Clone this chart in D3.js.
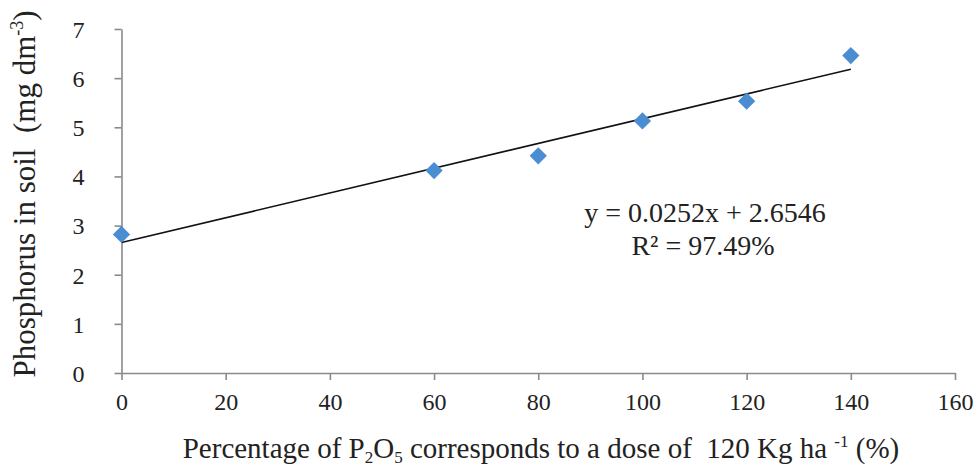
<!DOCTYPE html>
<html>
<head>
<meta charset="utf-8">
<script src="https://cdn.jsdelivr.net/npm/d3@7"></script>
<style>
  body { margin: 0; background: #fff; }
  text { font-family: "Liberation Serif", "Times New Roman", serif; fill: #222; }
</style>
</head>
<body>
<svg width="977" height="470"></svg>
<script>
var svg = d3.select('svg');

// data
var doses = [0, 60, 80, 100, 120, 140];
var phosphorus = [2.82, 4.12, 4.42, 5.13, 5.53, 6.46];
var xTicks = [0, 20, 40, 60, 80, 100, 120, 140, 160];
var yTicks = [0, 1, 2, 3, 4, 5, 6, 7];
var slope = 0.0252, intercept = 2.6546;
var fitRange = [0, 140];

var plotLeft = 121.5, plotRight = 955, plotTop = 29, plotBottom = 373;

var xScale = d3.scaleLinear().domain([0, 160]).range([plotLeft, plotRight]);
var yScale = d3.scaleLinear().domain([0, 7]).range([plotBottom, plotTop]);

var axisColor = '#8a8a8a';

// x axis
var xAxisG = svg.append('g')
    .attr('transform', 'translate(0,' + plotBottom + ')')
    .call(d3.axisBottom(xScale).tickValues(xTicks).tickSize(7).tickSizeOuter(0).tickPadding(13));

// y axis
var yAxisG = svg.append('g')
    .attr('transform', 'translate(' + plotLeft + ',0)')
    .call(d3.axisLeft(yScale).tickValues(yTicks).tickFormat(d3.format('d')).tickSize(7).tickSizeOuter(0).tickPadding(30));

[xAxisG, yAxisG].forEach(function(g) {
    g.attr('font-family', null);
    g.selectAll('path, line').attr('stroke', axisColor).attr('stroke-width', 1.6);
    g.selectAll('text')
        .style('font-size', '24px')
        .attr('fill', '#222');
});
yAxisG.selectAll('text').attr('dy', '0.35em');

// trend line
svg.append('line')
    .attr('x1', xScale(fitRange[0]))
    .attr('y1', yScale(intercept + slope * fitRange[0]))
    .attr('x2', xScale(fitRange[1]))
    .attr('y2', yScale(intercept + slope * fitRange[1]))
    .attr('stroke', '#111')
    .attr('stroke-width', 1.6);

// diamonds
svg.selectAll('.pt')
    .data(doses)
    .enter().append('path')
    .attr('class', 'pt')
    .attr('d', d3.symbol().type(d3.symbolDiamond2).size(190))
    .attr('transform', function(d, i) {
        return 'translate(' + xScale(d) + ',' + yScale(phosphorus[i]) + ')';
    })
    .attr('fill', '#4a8dd3');

// equation
svg.append('text')
    .attr('x', 705)
    .attr('y', 222)
    .attr('text-anchor', 'middle')
    .style('font-size', '28px')
    .text('y = 0.0252x + 2.6546');

svg.append('text')
    .attr('x', 703)
    .attr('y', 255)
    .attr('text-anchor', 'middle')
    .style('font-size', '28px')
    .text('R² = 97.49%');

// y label
var yLab = svg.append('text')
    .attr('transform', 'translate(35,' + 194 + ') rotate(-90)')
    .attr('text-anchor', 'middle')
    .style('font-size', '31px');
yLab.append('tspan').text('Phosphorus in soil \u00a0(mg dm');
yLab.append('tspan').attr('dy', -12).style('font-size', '18px').text('-3');
yLab.append('tspan').attr('dy', 12).text(')');

// x label
var xLab = svg.append('text')
    .attr('x', 541)
    .attr('y', 458)
    .attr('text-anchor', 'middle')
    .style('font-size', '29px');
xLab.append('tspan').text('Percentage of P');
xLab.append('tspan').attr('dy', 5).style('font-size', '17px').text('2');
xLab.append('tspan').attr('dy', -5).text('O');
xLab.append('tspan').attr('dy', 5).style('font-size', '17px').text('5');
xLab.append('tspan').attr('dy', -5).text(' corresponds to a dose of \u00a0120 Kg ha ');
xLab.append('tspan').attr('dy', -11).style('font-size', '17px').text('-1');
xLab.append('tspan').attr('dy', 11).text(' (%)');
</script>
</body>
</html>
